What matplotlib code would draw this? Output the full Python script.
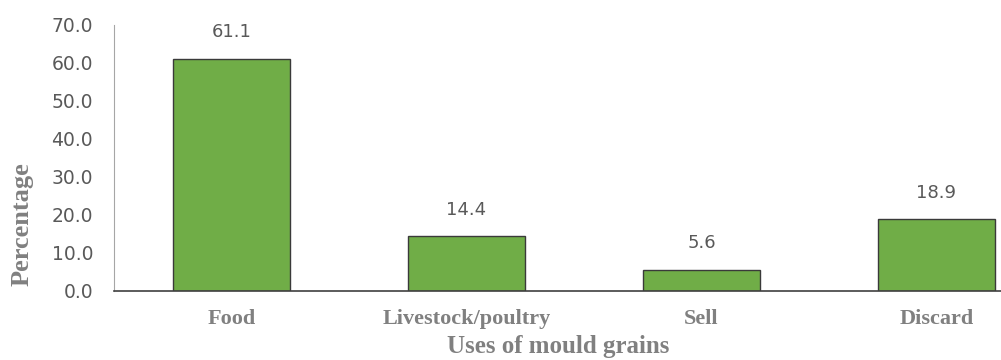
import matplotlib.pyplot as plt

uses = ["Food", "Livestock/poultry", "Sell", "Discard"]
percent = [61.1, 14.4, 5.6, 18.9]
yticks = [0, 10, 20, 30, 40, 50, 60, 70]

grey = "#595959"
light = "#808080"
serif = ["Liberation Serif", "DejaVu Serif"]
sans = ["DejaVu Sans"]

fig = plt.figure(figsize=(10.01, 3.6), dpi=100)
# axes run past the right edge of the figure, as in the original layout
ax = fig.add_axes([114 / 1001, 69 / 360, 940 / 1001, 266 / 360])

bars = ax.bar(range(len(uses)), percent, width=0.5, color="#70AD47",
              edgecolor="#3a3a3a", linewidth=1.0)

for rect, val in zip(bars, percent):
    ax.annotate(f"{val:.1f}", (rect.get_x() + rect.get_width() / 2, val),
                xytext=(0, 19), textcoords="offset points", ha="center",
                va="center", color=grey, fontsize=13, family=sans)

ax.set_xlim(-0.5, 3.5)
ax.set_ylim(0, 70)
ax.set_yticks(yticks)
ax.set_yticklabels([f"{t:.1f}" for t in yticks], color=grey, fontsize=13.5,
                   family=sans)
ax.set_xticks(range(len(uses)))
ax.set_xticklabels(uses, family=serif, fontweight="bold", color=light,
                   fontsize=16)
ax.tick_params(axis="y", length=0, pad=15)
ax.tick_params(axis="x", length=0, pad=13)

for side in ("top", "right"):
    ax.spines[side].set_visible(False)
ax.spines["left"].set_color("#a6a6a6")
ax.spines["bottom"].set_color("#404040")
ax.spines["bottom"].set_linewidth(1.2)

fig.text(558 / 1001, 1 - 347 / 360, "Uses of mould grains", ha="center",
         va="center", family=serif, fontweight="bold", color=light,
         fontsize=18)
fig.text(22 / 1001, 1 - 224 / 360, "Percentage", rotation=90, ha="center",
         va="center", family=serif, fontweight="bold", color=light,
         fontsize=19)

fig.savefig("out.png", dpi=100)
